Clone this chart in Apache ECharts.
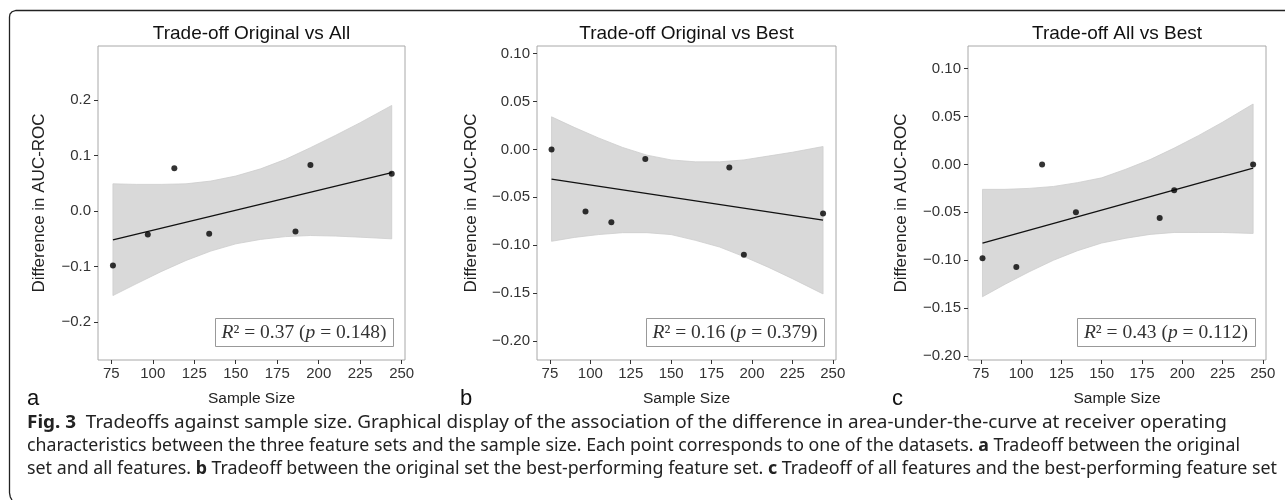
<!DOCTYPE html>
<html>
<head>
<meta charset="utf-8">
<script src="https://cdn.jsdelivr.net/npm/echarts@6/dist/echarts.min.js"></script>
<style>
  html, body { margin: 0; padding: 0; background: #fff; }
  #chart { width: 1285px; height: 500px; }
</style>
</head>
<body>
<div id="chart"></div>
<script>
// sample sizes of the seven datasets
const sampleSize = [76, 97, 113, 134, 186, 195, 244]
// difference in AUC-ROC per panel
const diffOrigAll = [-0.098, -0.042, 0.077, -0.041, -0.037, 0.083, 0.067]
const diffOrigBest = [0.000, -0.065, -0.076, -0.010, -0.019, -0.110, -0.067]
const diffAllBest = [-0.098, -0.107, 0.000, -0.050, -0.056, -0.027, 0.000]

// fitted line end points
const fitX = [76, 244]
const fitOrigAll = [-0.052, 0.069]
const fitOrigBest = [-0.031, -0.074]
const fitAllBest = [-0.082, -0.004]

// confidence band edges
const bandX = [76, 90, 105, 120, 135, 150, 165, 180, 195, 210, 225, 244]
const bandOrigAllLo = [-0.152, -0.131, -0.109, -0.089, -0.072, -0.059, -0.051, -0.046, -0.044, -0.045, -0.047, -0.050]
const bandOrigAllHi = [0.049, 0.048, 0.048, 0.049, 0.054, 0.063, 0.076, 0.093, 0.114, 0.136, 0.159, 0.190]
const bandOrigBestLo = [-0.096, -0.092, -0.089, -0.087, -0.087, -0.089, -0.095, -0.102, -0.112, -0.123, -0.135, -0.151]
const bandOrigBestHi = [0.034, 0.023, 0.012, 0.002, -0.006, -0.011, -0.013, -0.013, -0.011, -0.007, -0.003, 0.003]
const bandAllBestLo = [-0.138, -0.125, -0.112, -0.100, -0.090, -0.082, -0.077, -0.073, -0.071, -0.071, -0.071, -0.072]
const bandAllBestHi = [-0.026, -0.026, -0.025, -0.023, -0.019, -0.014, -0.005, 0.005, 0.017, 0.030, 0.044, 0.063]

// tick labels
const xTicks = [75, 100, 125, 150, 175, 200, 225, 250]
const yTicksA = [-0.2, -0.1, 0, 0.1, 0.2]
const yTicksBC = [-0.2, -0.15, -0.1, -0.05, 0, 0.05, 0.1]

const titles = ['Trade-off Original vs All', 'Trade-off Original vs Best', 'Trade-off All vs Best']
const stats = [['0.37', '0.148'], ['0.16', '0.379'], ['0.43', '0.112']]
const panelLetters = ['a', 'b', 'c']

const panels = [
  { y: diffOrigAll, fit: fitOrigAll, lo: bandOrigAllLo, hi: bandOrigAllHi, ticks: yTicksA, dec: 1, ymin: -0.268, ymax: 0.297 },
  { y: diffOrigBest, fit: fitOrigBest, lo: bandOrigBestLo, hi: bandOrigBestHi, ticks: yTicksBC, dec: 2, ymin: -0.22, ymax: 0.108 },
  { y: diffAllBest, fit: fitAllBest, lo: bandAllBestLo, hi: bandAllBestHi, ticks: yTicksBC, dec: 2, ymin: -0.204, ymax: 0.1235 }
]

// layout in pixels
const grids = [
  { left: 98, top: 46, width: 307, height: 314, nameGap: 50 },
  { left: 537, top: 46, width: 299, height: 314, nameGap: 57 },
  { left: 968, top: 46, width: 298, height: 314, nameGap: 58 }
]
const boxes = [215, 646, 1077]
const letterX = [27, 460, 892]

const fmt = (dec) => (v) => (v < 0 ? '\u2212' : '') + Math.abs(v).toFixed(dec)
const tickColor = '#333'

const chart = echarts.init(document.getElementById('chart'), null, { renderer: 'canvas' })

const option = {
  backgroundColor: '#fff',
  animation: false,
  grid: grids.map(g => ({
    left: g.left, top: g.top, width: g.width, height: g.height,
    show: true, borderColor: '#a8a8a8', borderWidth: 1, backgroundColor: '#fff'
  })),
  xAxis: grids.map((g, i) => ({
    gridIndex: i,
    type: 'value',
    min: 67,
    max: 252,
    name: 'Sample Size',
    nameLocation: 'middle',
    nameGap: 31,
    nameTextStyle: { fontFamily: 'Liberation Sans', fontSize: 15.5, color: '#222' },
    axisLine: { show: false, onZero: false },
    axisTick: { show: true, customValues: xTicks, length: 4, lineStyle: { color: tickColor } },
    axisLabel: { customValues: xTicks, color: tickColor, fontFamily: 'Liberation Sans', fontSize: 15, margin: 6 },
    splitLine: { show: false }
  })),
  yAxis: panels.map((p, i) => ({
    gridIndex: i,
    type: 'value',
    min: p.ymin,
    max: p.ymax,
    name: 'Difference in AUC-ROC',
    nameLocation: 'middle',
    nameGap: grids[i].nameGap,
    nameTextStyle: { fontFamily: 'Liberation Sans', fontSize: 17, color: '#222' },
    axisLine: { show: false, onZero: false },
    axisTick: { show: true, customValues: p.ticks, length: 4, lineStyle: { color: tickColor } },
    axisLabel: { customValues: p.ticks, color: tickColor, fontFamily: 'Liberation Sans', fontSize: 15, margin: 7, formatter: fmt(p.dec) },
    splitLine: { show: false }
  })),
  series: [],
  graphic: []
}

panels.forEach((p, i) => {
  // confidence band as a polygon through the library's coordinate mapping
  option.series.push({
    type: 'custom',
    xAxisIndex: i,
    yAxisIndex: i,
    silent: true,
    data: [[bandX[0], p.lo[0]]],
    renderItem: (params, api) => {
      const pts = []
      bandX.forEach((x, k) => pts.push(api.coord([x, p.hi[k]])))
      for (let k = bandX.length - 1; k >= 0; k--) pts.push(api.coord([bandX[k], p.lo[k]]))
      return {
        type: 'polygon',
        shape: { points: pts },
        style: { fill: '#d9d9d9', stroke: '#cdcdcd', lineWidth: 0.8 }
      }
    },
    z: 1
  })
  option.series.push({
    type: 'line',
    xAxisIndex: i,
    yAxisIndex: i,
    data: fitX.map((x, k) => [x, p.fit[k]]),
    showSymbol: false,
    symbol: 'none',
    lineStyle: { color: '#111', width: 1.3 },
    z: 2
  })
  option.series.push({
    type: 'scatter',
    xAxisIndex: i,
    yAxisIndex: i,
    data: sampleSize.map((x, k) => [x, p.y[k]]),
    symbolSize: 6,
    itemStyle: { color: '#000' },
    z: 3
  })

  const g = grids[i]
  option.graphic.push({
    type: 'text',
    x: g.left + g.width / 2,
    y: 34,
    style: { text: titles[i], fontFamily: 'Liberation Sans', fontSize: 19, fill: '#111', align: 'center', verticalAlign: 'middle' }
  })
  option.graphic.push({
    type: 'rect',
    shape: { x: boxes[i] + 0.5, y: 318.5, width: 178, height: 28 },
    style: { fill: '#fff', stroke: '#999', lineWidth: 1 },
    z: 10
  })
  option.graphic.push({
    type: 'text',
    x: boxes[i] + 89,
    y: 333,
    z: 11,
    style: {
      text: '{i|R}{n|\u00b2 = ' + stats[i][0] + ' (}{i|p}{n| = ' + stats[i][1] + ')}',
      align: 'center',
      verticalAlign: 'middle',
      rich: {
        i: { fontFamily: 'Liberation Serif', fontStyle: 'italic', fontSize: 19.5, fill: '#333' },
        n: { fontFamily: 'Liberation Serif', fontSize: 19.5, fill: '#333' }
      }
    }
  })
  option.graphic.push({
    type: 'text',
    x: letterX[i],
    y: 399,
    style: { text: panelLetters[i], fontFamily: 'Liberation Sans', fontSize: 22, fill: '#111', verticalAlign: 'middle' }
  })
})

// figure frame with rounded corner
option.graphic.push({
  type: 'polyline',
  shape: { points: [[1285, 10.5], [16, 10.5], [12, 11.7], [10, 14], [9.5, 17], [9.5, 493], [10.3, 497], [12, 500]] },
  style: { fill: null, stroke: '#222', lineWidth: 1.3 }
})

// caption
const capRich = {
  b: { fontFamily: 'Noto Sans', fontWeight: 'bold', fontSize: 18, fill: '#222' },
  t: { fontFamily: 'Noto Sans', fontSize: 18, fill: '#222' }
}
const capLines = [
  '{b|Fig. 3}{t|  Tradeoffs against sample size. Graphical display of the association of the difference in area-under-the-curve at receiver operating}',
  '{t|characteristics between the three feature sets and the sample size. Each point corresponds to one of the datasets. }{b|a}{t| Tradeoff between the original}',
  '{t|set and all features. }{b|b}{t| Tradeoff between the original set the best-performing feature set. }{b|c}{t| Tradeoff of all features and the best-performing feature set}'
]
const capScale = [1.05, 0.985, 0.99]
capLines.forEach((txt, k) => {
  option.graphic.push({
    type: 'text',
    x: 27,
    y: 423 + k * 23,
    scaleX: capScale[k],
    style: { text: txt, rich: capRich, verticalAlign: 'middle' }
  })
})

chart.setOption(option)
</script>
</body>
</html>
